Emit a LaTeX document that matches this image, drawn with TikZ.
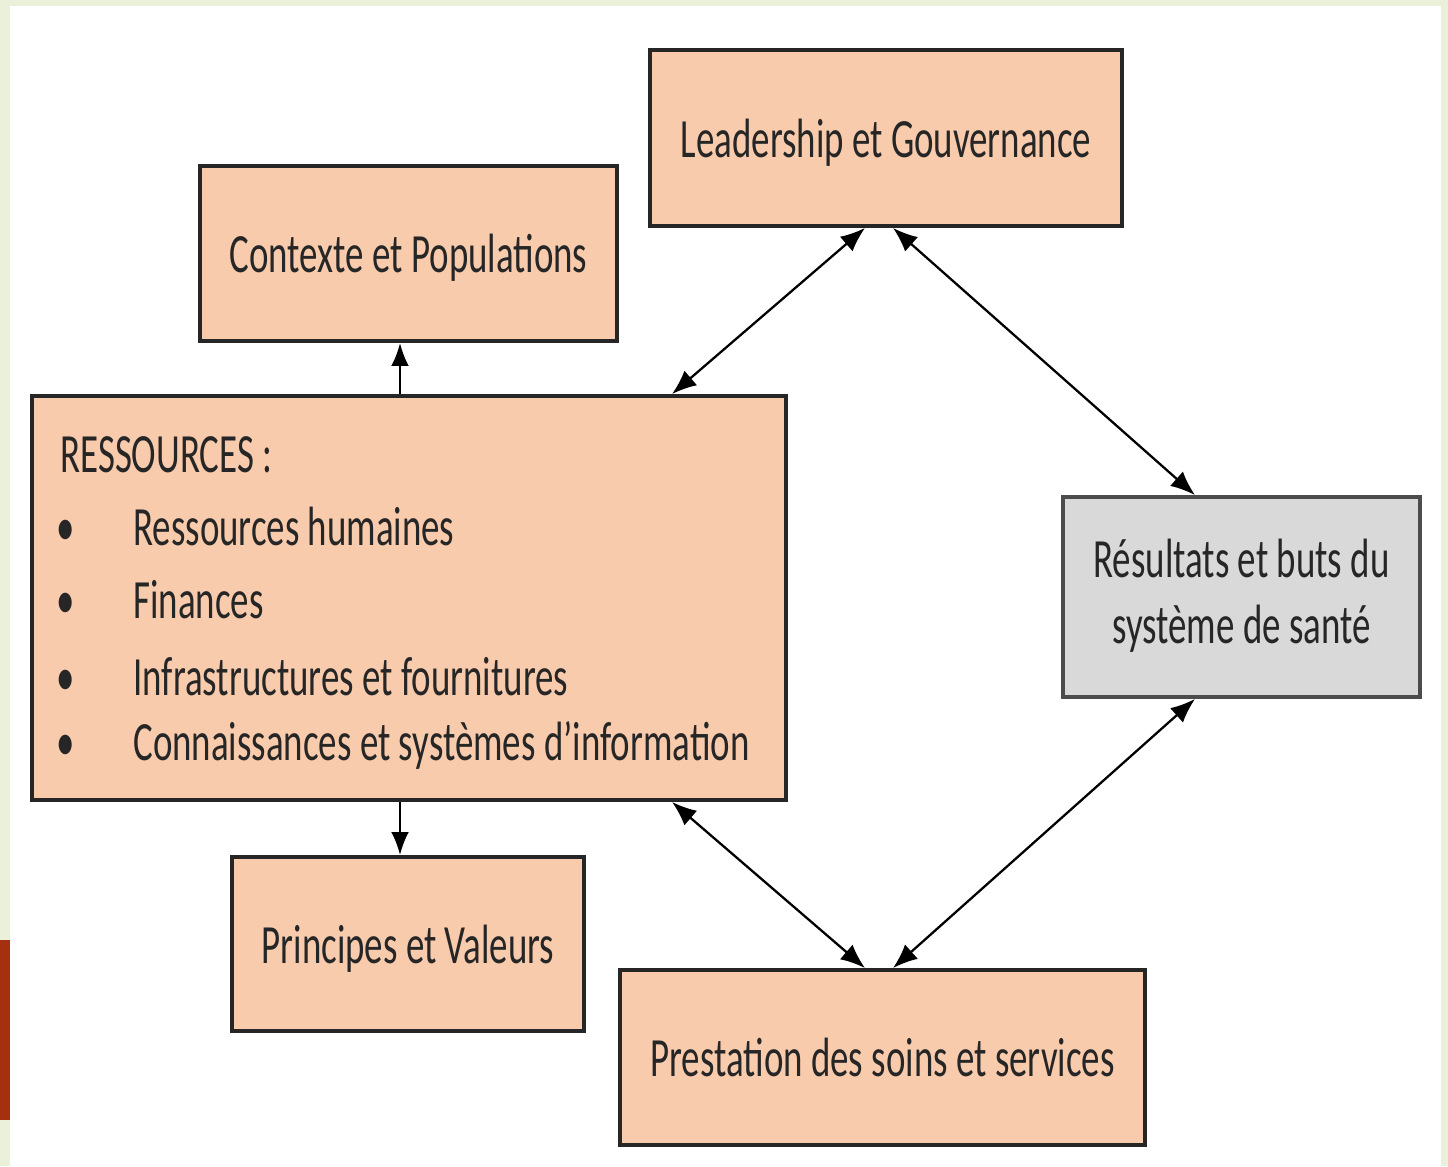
\documentclass[tikz,border=0pt]{standalone}
\usepackage{fontspec}
\setmainfont{Carlito}
\usepackage{graphicx}
\usetikzlibrary{arrows.meta, calc}
\definecolor{boxfill}{HTML}{F8CBAD}
\definecolor{outfill}{HTML}{D9D9D9}
\definecolor{pagegreen}{HTML}{EBF0DA}
\definecolor{barred}{HTML}{A5300F}
\newcommand{\tall}[1]{\scalebox{1}[1.5]{#1}}
\tikzset{
    blockbox/.style={draw=black!85, line width=2.2pt, fill=boxfill, inner sep=0pt,
        font=\fontsize{21}{25}\selectfont, text=black!85},
    onelinebox/.style={blockbox, text depth=0pt},
    listline/.style={anchor=base west, inner sep=0pt, font=\fontsize{21}{25}\selectfont, text=black!85},
    link/.style={black, line width=1.3pt, {Latex[length=14pt,width=11pt]}-{Latex[length=14pt,width=11pt]}},
    onelink/.style={black, line width=1.3pt, -{Latex[length=13pt,width=10pt]}},
}

\begin{document}
\begin{tikzpicture}
            \useasboundingbox (0,0) rectangle (28.96,-23.32);
            \fill[pagegreen] (0,0) rectangle (28.96,-23.32);% page frame
            \fill[white] (0.2,-0.12) rectangle (28.82,-23.32);
            \fill[barred] (0,-18.8) rectangle (0.2,-22.4);

            \node[onelinebox, minimum width=9.44cm, minimum height=3.52cm] (lead) at (17.72,-2.76) {\tall{Leadership et Gouvernance}};
            \node[onelinebox, minimum width=8.34cm, minimum height=3.5cm] (ctx) at (8.17,-5.07) {\tall{Contexte et Populations}};
            \node[blockbox, minimum width=15.08cm, minimum height=8.08cm] (res) at (8.18,-11.96) {};
            \node[blockbox, draw=black!70, fill=outfill, minimum width=7.14cm, minimum height=4cm] (out) at (24.83,-11.94)
                {\tall{\begin{tabular}{@{}c@{}}Résultats et buts du\\ système de santé\end{tabular}}};
            \node[onelinebox, minimum width=7.04cm, minimum height=3.48cm] (prin) at (8.16,-18.88) {\tall{Principes et Valeurs}};
            \node[onelinebox, minimum width=10.5cm, minimum height=3.5cm] (pres) at (17.65,-21.15) {\tall{Prestation des soins et services}};

            % list inside the resources box
            \node[listline] (reshead) at (1.2,-9.44) {\tall{RESSOURCES :}};
            \node[listline] (item1) at (2.66,-10.9) {\tall{Ressources humaines}};
            \node[listline] (item2) at (2.66,-12.36) {\tall{Finances}};
            \node[listline] (item3) at (2.66,-13.9) {\tall{Infrastructures et fournitures}};
            \node[listline] (item4) at (2.66,-15.2) {\tall{Connaissances et systèmes d'information}};
            \foreach \i in {1,...,4}
                \node[listline, anchor=base] (dot\i) at ($(item\i.base west)+(-1.34,0)$) {\tall{\textbullet}};

            \draw[onelink] ($(res.north)+(-0.18,0)$) -- ($(ctx.south)+(-0.17,0)$);
            \draw[onelink] ($(res.south)+(-0.18,0)$) -- ($(prin.north)+(-0.16,0)$);
            \draw[link] ($(lead.south)+(-0.42,0)$) -- ($(res.north)+(5.26,0)$);
            \draw[link] ($(lead.south)+(0.14,0)$) -- ($(out.north)+(-0.93,0)$);
            \draw[link] ($(res.south)+(5.26,0)$) -- ($(pres.north)+(-0.35,0)$);
            \draw[link] ($(out.south)+(-0.93,0)$) -- ($(pres.north)+(0.21,0)$);
        \end{tikzpicture}
\end{document}
